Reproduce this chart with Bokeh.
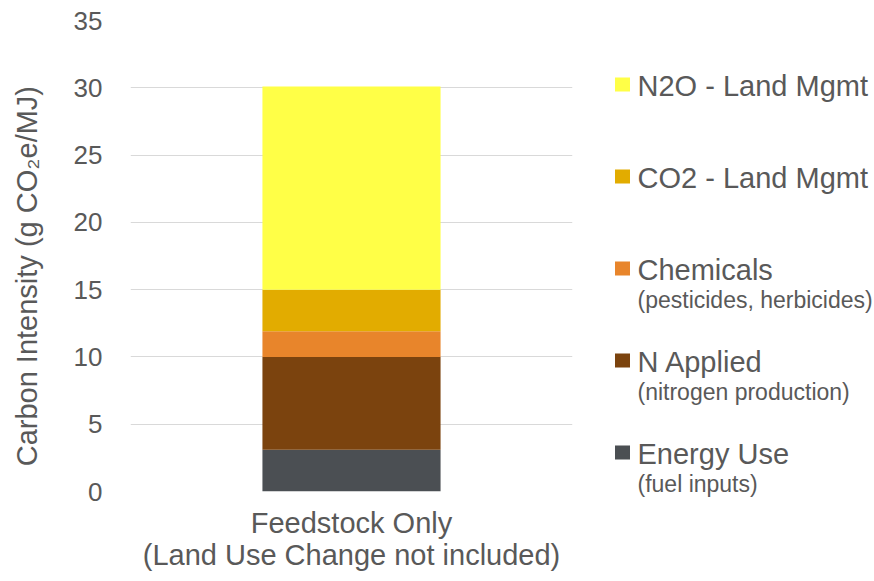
from bokeh.plotting import figure
from bokeh.models import ColumnDataSource, FixedTicker, Range1d
from bokeh.layouts import row, column
from bokeh.embed import file_html
from bokeh.resources import INLINE
from bokeh.core.properties import value

# ---- data ----
categories = ["Feedstock Only\n(Land Use Change not included)"]
components = ["Energy Use", "N Applied", "Chemicals", "CO2 - Land Mgmt", "N2O - Land Mgmt"]
sublabels = ["(fuel inputs)", "(nitrogen production)", "(pesticides, herbicides)", "", ""]
values = [3.1, 6.9, 1.9, 3.1, 15.1]
colors = ["#4B4F53", "#7B430E", "#E8852B", "#E2AC00", "#FFFF47"]
y_ticks = [0, 5, 10, 15, 20, 25, 30, 35]
y_label = "Carbon Intensity (g CO\u2082e/MJ)"

FONT = "Liberation Sans"
TXT = "#595959"

H = 581
MAIN_W = 596
LEG_W = 874 - MAIN_W

p = figure(x_range=categories, y_range=Range1d(0, 35), width=MAIN_W, height=H,
           output_backend="svg", toolbar_location=None,
           min_border_left=130, min_border_right=MAIN_W - 572,
           min_border_top=20, min_border_bottom=H - 491)

data = {"x": categories}
for c, v in zip(components, values):
    data[c] = [v]
p.vbar_stack(components, x="x", width=0.403, color=colors, line_color=None,
             source=ColumnDataSource(data))

p.outline_line_color = None
p.xgrid.grid_line_color = None
p.ygrid.grid_line_color = "#D9D9D9"
p.ygrid.grid_line_width = 1
p.yaxis.ticker = FixedTicker(ticks=y_ticks)
for ax in (p.xaxis, p.yaxis):
    ax.axis_line_color = None
    ax.major_tick_line_color = None
    ax.minor_tick_line_color = None
    ax.major_tick_out = 0
    ax.minor_tick_out = 0
    ax.major_label_text_color = TXT
    ax.major_label_text_font = FONT
p.yaxis.major_label_text_font_size = "26px"
p.yaxis.major_label_standoff = 28
# trailing no-break spaces nudge the centred label down to match the reference
p.yaxis.axis_label = y_label + "\u00a0" * 5
p.yaxis.axis_label_text_font = FONT
p.yaxis.axis_label_text_font_size = "29px"
p.yaxis.axis_label_text_font_style = "normal"
p.yaxis.axis_label_text_color = TXT
p.yaxis.axis_label_standoff = 28
p.xaxis.major_label_text_font_size = "29px"
p.xaxis.major_label_text_line_height = 1.0
p.xaxis.major_label_standoff = 15
p.x_range.range_padding = 0

# ---- legend figure ----
lg = figure(width=LEG_W, height=H, x_range=Range1d(0, LEG_W), y_range=Range1d(H, 0),
            output_backend="svg", toolbar_location=None,
            min_border=0, min_border_left=0, min_border_right=0,
            min_border_top=0, min_border_bottom=0)
lg.axis.visible = False
lg.grid.visible = False
lg.outline_line_color = None

n = len(components)
order = list(range(n))[::-1]  # top row = last stacked component
base0 = 85   # first row centre line
step = 92
x0 = 622 - MAIN_W  # swatch centre
leg_src = ColumnDataSource(dict(
    label=[components[i] for i in order],
    sub=[sublabels[i] for i in order],
    color=[colors[i] for i in order],
    ty=[base0 + k * step for k in range(n)],
    sy=[base0 + k * step + 30 for k in range(n)],
    ry=[base0 + k * step - 1 for k in range(n)],
    tx=[x0 + 15] * n,
    rx=[x0] * n,
))
lg.rect(x="rx", y="ry", width=15, height=14, fill_color="color", line_color=None, source=leg_src)
lg.text(x="tx", y="ty", text="label", text_font=value(FONT), text_font_size="29px",
        text_color=TXT, text_baseline="alphabetic", text_align="left", source=leg_src)
lg.text(x="tx", y="sy", text="sub", text_font=value(FONT), text_font_size="23px",
        text_color=TXT, text_baseline="alphabetic", text_align="left", source=leg_src)

layout = row(p, column(lg))
open("out.html", "w").write(file_html(layout, INLINE))
